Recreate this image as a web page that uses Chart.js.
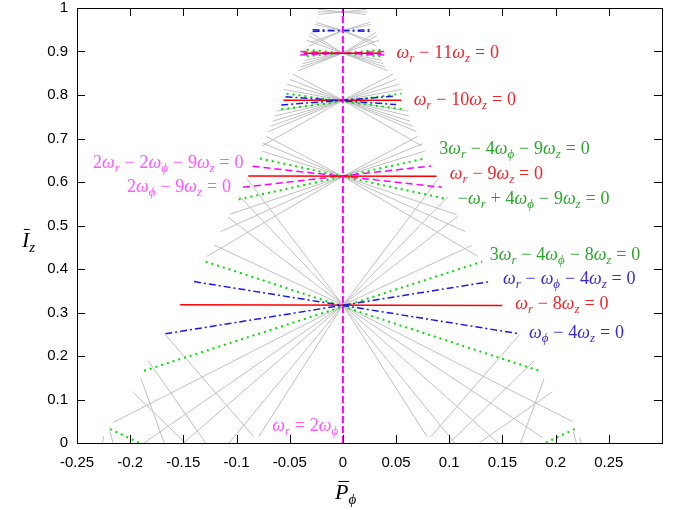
<!DOCTYPE html>
<html>
<head>
<meta charset="utf-8">
<script src="https://cdn.jsdelivr.net/npm/chart.js@4.4.1/dist/chart.umd.min.js"></script>
<style>
  body { margin: 0; background: #fff; }
  #wrap { width: 695px; height: 510px; }
</style>
</head>
<body>
<div id="wrap"><canvas id="chart"></canvas></div>
<script>
// I_z of the resonance centres sitting on the P_phi = 0 axis
const centres = [0.317, 0.613, 0.788, 0.896, 0.948, 0.991];

// grey resonances: far end [P_phi, I_z] of each ray leaving a centre
const greyRays0 = [[-0.216,0.047],[-0.187,0],[-0.150,0],[-0.107,0],[-0.079,0.015],
  [0.079,0.015],[0.105,0],[0.146,0],[0.188,0.012],[0.216,0.049],
  [-0.090,0.607],[-0.098,0.569],[-0.108,0.519],[-0.121,0.455],
  [0.090,0.608],[0.099,0.567],[0.108,0.521],[0.121,0.454]];
const greyRays1 = [[-0.106,0.526],[-0.115,0.486],[-0.128,0.429],
  [0.107,0.525],[0.115,0.486],[0.127,0.429],
  [-0.076,0.671],[-0.075,0.689],[-0.072,0.705],
  [0.077,0.671],[0.075,0.688],[0.071,0.706]];
const greyRays2 = [[-0.076,0.683],[-0.070,0.716],[-0.068,0.728],[-0.066,0.740],[-0.064,0.752],[-0.062,0.763],
  [0.074,0.683],[0.069,0.716],[0.066,0.728],[0.063,0.740],[0.062,0.752],[0.061,0.763],
  [-0.056,0.813],[-0.053,0.825],[-0.050,0.836],[-0.047,0.848],
  [0.056,0.813],[0.053,0.825],[0.050,0.836],[0.047,0.848]];
const greyRays3 = [[-0.042,0.856],[-0.040,0.864],[-0.038,0.872],[-0.036,0.880],
  [0.042,0.856],[0.040,0.864],[0.038,0.872],[0.036,0.880],
  [-0.031,0.944],[-0.032,0.936],[-0.034,0.926],
  [0.031,0.944],[0.032,0.936],[0.034,0.926]];
const greyRays4 = [[-0.032,0.912],[-0.030,0.921],[0.032,0.912],[0.030,0.921],
  [-0.026,0.962],[-0.025,0.967],[0.026,0.962],[0.025,0.967]];
const greyRays5 = [[-0.023,0.997],[-0.023,0.985],[-0.024,0.991],
  [0.022,0.997],[0.022,0.985],[0.023,0.991]];
// grey resonances crossing near the floor [x1, y1, x2, y2]
const greyFloor = [[-0.084,0.015,-0.167,0.249],[0.082,0.013,0.166,0.249],
  [-0.129,0,-0.183,0.189],[0.100,0,0.180,0.189],
  [-0.148,0,-0.198,0.118],[0.128,0,0.197,0.118],
  [-0.168,0,-0.190,0.149],[0.167,0,0.189,0.147],
  [-0.216,0,-0.219,0.026],[-0.226,0,-0.225,0.015],
  [0.2195,0,0.2165,0.026],[0.224,0,0.2228,0.012]];

// coloured resonances [x1, y1, x2, y2]
const redLines = [[-0.153,0.318,0.150,0.316],[-0.089,0.614,0.088,0.613],
  [-0.056,0.788,0.055,0.788],[-0.037,0.896,0.036,0.896]];
const blueLines = [[-0.140,0.371,0.166,0.251],[-0.167,0.251,0.138,0.371],
  [-0.054,0.796,0.050,0.778],[-0.058,0.777,0.047,0.797],
  [-0.0285,0.950,0.028,0.946],[-0.0285,0.946,0.028,0.950]];
const greenLines = [[-0.129,0.417,0.187,0.164],[-0.187,0.166,0.131,0.417],
  [-0.078,0.654,0.0975,0.561],[-0.098,0.560,0.077,0.654],
  [-0.053,0.803,0.057,0.767],[-0.058,0.767,0.055,0.803],
  [-0.034,0.904,0.037,0.888],[-0.034,0.889,0.037,0.904],
  [-0.219,0.032,-0.191,0],[0.218,0.032,0.190,0]];
const magentaLines = [[-0.085,0.636,0.093,0.588],[-0.094,0.588,0.083,0.637],
  [-0.040,0.900,0.040,0.892],[-0.040,0.892,0.040,0.900]];
const axisResonance = [[0,0,0,1]];   // omega_r = 2 omega_phi

const xTicks = [-0.25,-0.2,-0.15,-0.1,-0.05,0,0.05,0.1,0.15,0.2,0.25];
const xTickLabels = ['-0.25','-0.2','-0.15','-0.1','-0.05','0','0.05','0.1','0.15','0.2','0.25'];
const yTicks = [0,0.1,0.2,0.3,0.4,0.5,0.6,0.7,0.8,0.9,1];
const yTickLabels = ['0','0.1','0.2','0.3','0.4','0.5','0.6','0.7','0.8','0.9','1'];

// resonance labels ('_' = next char is a subscript)
const labelText = ['ω_r − 11ω_z = 0','ω_r − 10ω_z = 0','3ω_r − 4ω_ϕ − 9ω_z = 0','ω_r − 9ω_z = 0',
  '−ω_r + 4ω_ϕ − 9ω_z = 0','3ω_r − 4ω_ϕ − 8ω_z = 0','ω_r − ω_ϕ − 4ω_z = 0','ω_r − 8ω_z = 0',
  'ω_ϕ − 4ω_z = 0','2ω_r − 2ω_ϕ − 9ω_z = 0','2ω_ϕ − 9ω_z = 0','ω_r = 2ω_ϕ'];
const labelX = [0.0505,0.0665,0.0905,0.1005,0.108,0.138,0.1505,0.162,0.175,-0.235,-0.203,-0.0665];
const labelY = [0.8986,0.791,0.677,0.619,0.562,0.433,0.378,0.321,0.254,0.645,0.591,0.040];
const labelColour = ['#e8262b','#e8262b','#2ca52c','#e8262b','#2ca52c','#2ca52c','#3a28cc','#e8262b',
  '#3a28cc','#ff55ff','#ff55ff','#ff55ff'];

const gap = () => ({x: null, y: null});
function segPoints(list) {
  const pts = [];
  list.forEach(s => { pts.push({x: s[0], y: s[1]}, {x: s[2], y: s[3]}, gap()); });
  return pts;
}
function rayPoints(yc, ends) {
  const pts = [];
  ends.forEach(e => { pts.push({x: 0, y: yc}, {x: e[0], y: e[1]}, gap()); });
  return pts;
}

const greyData = [].concat(
  rayPoints(centres[0], greyRays0), rayPoints(centres[1], greyRays1),
  rayPoints(centres[2], greyRays2), rayPoints(centres[3], greyRays3),
  rayPoints(centres[4], greyRays4), rayPoints(centres[5], greyRays5),
  segPoints(greyFloor));

// small TeX-ish text renderer: italic letters, upright digits, subscripts, overbar with '~'
function mathRuns(str) {
  const runs = [];
  let bar = false;
  for (let i = 0; i < str.length; i++) {
    let ch = str[i];
    if (ch === '~') { bar = true; continue; }
    let sub = false;
    if (ch === '_') { sub = true; ch = str[++i]; }
    runs.push({ch, sub, bar});
    bar = false;
  }
  return runs;
}
function drawMath(ctx, str, x, yMid, size, colour) {
  const runs = mathRuns(str);
  ctx.save();
  ctx.fillStyle = colour;
  ctx.strokeStyle = colour;
  ctx.textAlign = 'left';
  ctx.textBaseline = 'alphabetic';
  const base = yMid + size * 0.32;
  let cx = x;
  runs.forEach(r => {
    const s = Math.round(r.sub ? size * 0.7 : size);
    const italic = /[A-Za-zωϕ]/.test(r.ch);
    ctx.font = (italic ? 'italic ' : '') + s + 'px "Liberation Serif", "DejaVu Serif", serif';
    let w = ctx.measureText(r.ch).width;
    if (r.ch === ' ') w = size * 0.27;
    const by = r.sub ? base + size * 0.22 : base;
    ctx.fillText(r.ch, cx, by);
    if (r.bar) {
      ctx.lineWidth = 1;
      ctx.beginPath();
      ctx.moveTo(cx + w * 0.25, by - size * 0.8);
      ctx.lineTo(cx + w * 1.05, by - size * 0.8);
      ctx.stroke();
    }
    cx += w;
  });
  ctx.restore();
}

const framePlugin = {
  id: 'frame',
  afterDatasetsDraw(chart) {
    const {ctx, chartArea: a, scales: {x, y}} = chart;
    ctx.save();
    ctx.strokeStyle = '#000';
    ctx.lineWidth = 1;
    ctx.beginPath();
    xTicks.forEach(v => {
      const px = Math.round(x.getPixelForValue(v)) + 0.5;
      ctx.moveTo(px, a.bottom); ctx.lineTo(px, a.bottom - 8);
      ctx.moveTo(px, a.top); ctx.lineTo(px, a.top + 8);
    });
    yTicks.forEach(v => {
      const py = Math.round(y.getPixelForValue(v)) + 0.5;
      ctx.moveTo(a.left, py); ctx.lineTo(a.left + 8, py);
      ctx.moveTo(a.right, py); ctx.lineTo(a.right - 8, py);
    });
    ctx.stroke();
    ctx.strokeRect(Math.round(a.left) + 0.5, Math.round(a.top) + 0.5,
      Math.round(a.right - a.left), Math.round(a.bottom - a.top));
    ctx.restore();

    labelText.forEach((t, i) => {
      drawMath(ctx, t, x.getPixelForValue(labelX[i]), y.getPixelForValue(labelY[i]), 18, labelColour[i]);
    });
    drawMath(ctx, '~I_z', 22, 240, 22, '#000');
    drawMath(ctx, '~P_ϕ', 335, 492, 22, '#000');
  }
};

const common = {pointRadius: 0, pointHoverRadius: 0, fill: false, tension: 0, spanGaps: false, borderCapStyle: 'butt'};

new Chart(document.getElementById('chart'), {
  type: 'line',
  data: {
    datasets: [
      Object.assign({label: 'axis', data: segPoints(axisResonance), borderColor: '#ff00ff', borderWidth: 2, borderDash: [7, 3], order: 0}, common),
      Object.assign({label: 'blue', data: segPoints(blueLines), borderColor: '#1a1ae6', borderWidth: 1.5, borderDash: [7, 3, 2, 3], order: 1}, common),
      Object.assign({label: 'red', data: segPoints(redLines), borderColor: '#ff0000', borderWidth: 1.5, order: 2}, common),
      Object.assign({label: 'magenta', data: segPoints(magentaLines), borderColor: '#ff00ff', borderWidth: 1.5, borderDash: [7, 4], order: 3}, common),
      Object.assign({label: 'green', data: segPoints(greenLines), borderColor: '#00dd00', borderWidth: 2, borderDash: [2, 4], order: 4}, common),
      Object.assign({label: 'grey', data: greyData, borderColor: '#c0c0c0', borderWidth: 1, order: 5}, common)
    ]
  },
  options: {
    responsive: true,
    maintainAspectRatio: false,
    animation: false,
    events: [],
    layout: {padding: {top: 8, right: 33, left: 0, bottom: 0}},
    plugins: {legend: {display: false}, tooltip: {enabled: false}},
    scales: {
      x: {
        type: 'linear', min: -0.25, max: 0.3,
        afterBuildTicks: s => { s.ticks = xTicks.map(v => ({value: v})); },
        afterFit: s => { s.height = 67; s.paddingLeft = 0; s.paddingRight = 0; },
        grid: {display: false, drawTicks: false},
        border: {display: false},
        ticks: {padding: 11, color: '#000', maxRotation: 0, autoSkip: false,
          font: {family: '"Liberation Sans", Arial, sans-serif', size: 15},
          callback: (v, i) => xTickLabels[i]}
      },
      y: {
        type: 'linear', min: 0, max: 1,
        afterBuildTicks: s => { s.ticks = yTicks.map(v => ({value: v})); },
        afterFit: s => { s.width = 77; s.paddingTop = 0; s.paddingBottom = 0; },
        grid: {display: false, drawTicks: false},
        border: {display: false},
        ticks: {padding: 9, color: '#000', autoSkip: false,
          font: {family: '"Liberation Sans", Arial, sans-serif', size: 15},
          callback: (v, i) => yTickLabels[i]}
      }
    }
  },
  plugins: [framePlugin]
});
</script>
</body>
</html>
